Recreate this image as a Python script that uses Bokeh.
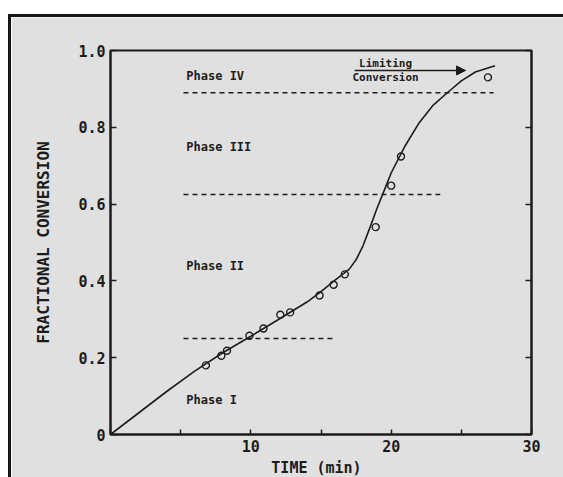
from bokeh.plotting import figure
from bokeh.models import (LinearAxis, FixedTicker, Arrow, NormalHead, Range1d,
                          ColumnDataSource)
from bokeh.embed import file_html
from bokeh.resources import INLINE
from bokeh.core.properties import value

# fitted curve (time in min, fractional conversion)
curve_t = [0, 2, 4, 6, 8, 10, 12, 14, 15, 16, 17, 17.5, 18, 18.5, 19, 19.5,
           20, 21, 22, 23, 24, 25, 26, 27.4]
curve_f = [0, 0.056, 0.112, 0.165, 0.213, 0.256, 0.300, 0.345, 0.372, 0.402,
           0.430, 0.455, 0.492, 0.540, 0.590, 0.635, 0.681, 0.752, 0.812,
           0.858, 0.890, 0.921, 0.944, 0.960]

# measured points
obs_t = [6.8, 7.9, 8.3, 9.9, 10.9, 12.1, 12.8, 14.9, 15.9, 16.7, 18.9, 20.0,
         20.7, 26.9]
obs_f = [0.180, 0.205, 0.218, 0.257, 0.276, 0.312, 0.318, 0.362, 0.390,
         0.417, 0.540, 0.648, 0.724, 0.930]

# phase boundaries
bound_f = [0.25, 0.625, 0.89]
bound_t0 = [5.2, 5.2, 5.2]
bound_t1 = [16.0, 23.5, 27.3]

phase_names = ["Phase I", "Phase II", "Phase III", "Phase IV"]
phase_t = [5.4, 5.4, 5.4, 5.4]
phase_f = [0.089, 0.44, 0.75, 0.934]

note_lines = ["Limiting", "Conversion"]
note_t = [19.6, 19.6]
note_f = [0.966, 0.929]

x_ticks = [0, 5, 10, 15, 20, 25, 30]
x_tick_labels = ["", "", "10", "", "20", "", "30"]
y_ticks = [0, 0.2, 0.4, 0.6, 0.8, 1.0]
y_tick_labels = ["0", "0.2", "0.4", "0.6", "0.8", "1.0"]

BG = "#e0e0e0"
INK = "#1c1c1c"
MONO = "DejaVu Sans Mono"

p = figure(width=555, height=463, x_range=Range1d(0, 30), y_range=Range1d(0, 1),
           output_backend="svg", toolbar_location=None,
           min_border_left=99, min_border_right=35, min_border_top=33,
           min_border_bottom=46, background_fill_color=BG, border_fill_color=BG,
           outline_line_color=INK, outline_line_width=2)
p.styles = {"border-left": "3px solid #151515", "border-top": "3px solid #151515",
            "margin-top": "14px", "margin-left": "8px"}
p.grid.visible = False

for ax in (p.xaxis[0], p.yaxis[0]):
    ax.axis_line_color = INK
    ax.axis_line_width = 2
    ax.major_tick_in = 6
    ax.major_tick_out = 0
    ax.major_tick_line_color = INK
    ax.major_tick_line_width = 1.5
    ax.minor_tick_line_color = None
    ax.major_label_text_font = MONO
    ax.major_label_text_font_style = "bold"
    ax.major_label_text_font_size = "15px"
    ax.major_label_text_color = INK
    ax.axis_label_text_font = MONO
    ax.axis_label_text_font_style = "bold"
    ax.axis_label_text_color = INK

p.xaxis[0].ticker = FixedTicker(ticks=x_ticks)
p.xaxis[0].major_label_overrides = dict(zip(x_ticks, x_tick_labels))
p.xaxis[0].major_label_standoff = 5
p.xaxis[0].major_tick_in = 5
p.xaxis[0].axis_label = "TIME  (min)"
p.xaxis[0].axis_label_text_font_size = "15px"
p.xaxis[0].axis_label_standoff = 4

p.yaxis[0].ticker = FixedTicker(ticks=y_ticks)
p.yaxis[0].major_label_overrides = dict(zip(y_ticks, y_tick_labels))
p.yaxis[0].major_label_standoff = 5
p.yaxis[0].axis_label = "FRACTIONAL CONVERSION"
p.yaxis[0].axis_label_text_font_size = "16px"
p.yaxis[0].axis_label_standoff = 22

right = LinearAxis(ticker=FixedTicker(ticks=y_ticks),
                   major_label_overrides={t: "" for t in y_ticks},
                   axis_line_color=INK, axis_line_width=2,
                   major_tick_in=6, major_tick_out=0, major_tick_line_width=1.5,
                   major_tick_line_color=INK, minor_tick_line_color=None,
                   major_label_standoff=0)
p.add_layout(right, "right")

p.line(curve_t, curve_f, line_color=INK, line_width=1.6)
p.scatter(obs_t, obs_f, marker="circle", size=7, fill_color=None,
          line_color=INK, line_width=1.4)

p.segment(x0=bound_t0, y0=bound_f, x1=bound_t1, y1=bound_f, line_color=INK,
          line_width=1.5, line_dash="5 4")

src = ColumnDataSource(dict(x=phase_t, y=phase_f, t=phase_names))
p.text(x="x", y="y", text="t", source=src, text_font=value(MONO),
       text_font_style="bold", text_font_size="12px", text_color=INK,
       text_baseline="middle", text_align="left")

nsrc = ColumnDataSource(dict(x=note_t, y=note_f, t=note_lines))
p.text(x="x", y="y", text="t", source=nsrc, text_font=value(MONO),
       text_font_style="bold", text_font_size="11px", text_color=INK,
       text_baseline="middle", text_align="center")

p.add_layout(Arrow(x_start=17.4, y_start=0.948, x_end=25.3, y_end=0.948,
                   line_color=INK, line_width=1.5,
                   end=NormalHead(size=9, fill_color=INK, line_color=INK)))

open("out.html", "w").write(file_html(p, INLINE))
